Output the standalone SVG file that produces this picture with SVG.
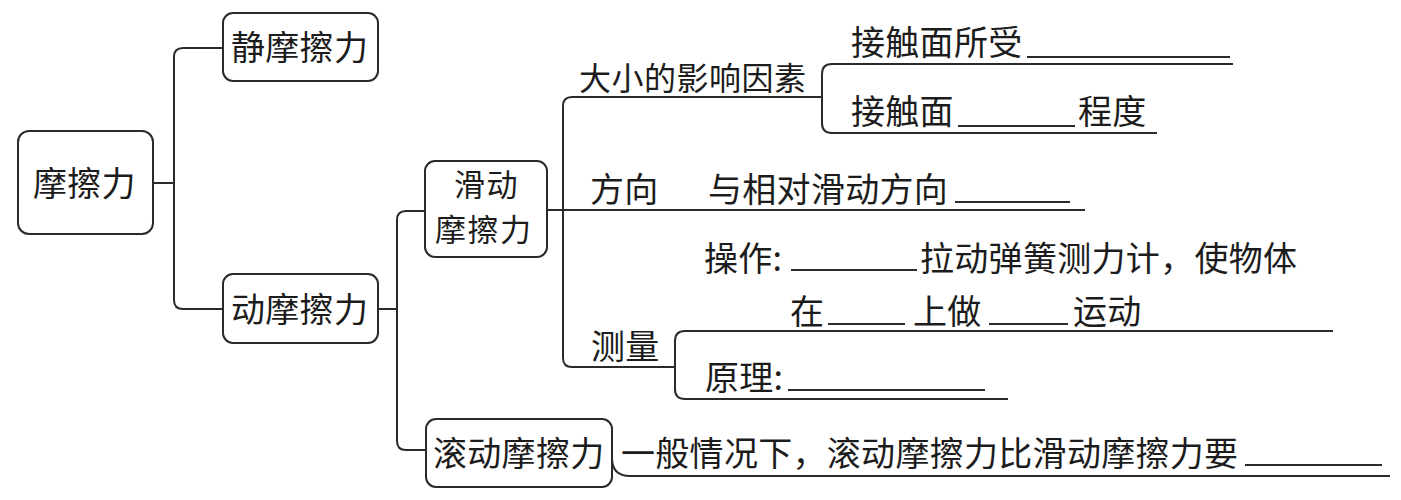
<svg xmlns="http://www.w3.org/2000/svg" width="1401" height="500" viewBox="0 0 1401 500">
<style>
.box{fill:#fff;stroke:#2a2a2a;stroke-width:2}
.ln{fill:none;stroke:#2a2a2a;stroke-width:2}
.bl{fill:none;stroke:#2a2a2a;stroke-width:1.8}
text{font-family:"Noto Sans CJK SC","Noto Sans",sans-serif;font-size:34px;fill:#1c1c1c;letter-spacing:0.3px}
.s{font-size:32px;letter-spacing:1px}
.t{font-size:31px;letter-spacing:1.5px}
</style>
<rect width="1401" height="500" fill="#fff"/>
<g id="connectors">
<path class="ln" d="M153,183 H174"/>
<path class="ln" d="M223,48 H183 Q174,48 174,57 V300 Q174,309 183,309 H223"/>
<path class="ln" d="M378,309 H397"/>
<path class="ln" d="M425,211 H406 Q397,211 397,220 V441 Q397,450 406,450 H426"/>
<path class="ln" d="M547,210 H1085"/>
<path class="ln" d="M822,97 H572 Q563,97 563,106 V358 Q563,367 572,367 H675"/>
<path class="ln" d="M1233,64 H832 Q822,64 822,74 V123 Q822,133 832,133 H1157"/>
<path class="ln" d="M1333,331 H685 Q675,331 675,341 V389 Q675,399 685,399 H1008"/>
<path class="ln" d="M612,458 Q612,476 630,476 H1390"/>
</g>
<g id="blanks">
<path class="bl" d="M1027,57 H1230 M958,126 H1075 M955,202 H1070 M791,270 H917 M828,324 H905 M989,324 H1068 M788,390 H985 M1245,465 H1382"/>
</g>
<g id="n-mocali"><rect class="box" x="18" y="131" width="135" height="103" rx="11"/><text x="33" y="196">摩擦力</text></g>
<g id="n-jing"><rect class="box" x="223" y="13" width="155" height="68" rx="10"/><text x="231" y="60">静摩擦力</text></g>
<g id="n-dong"><rect class="box" x="223" y="274" width="155" height="69" rx="10"/><text x="231" y="322">动摩擦力</text></g>
<g id="n-huadong"><rect class="box" x="425" y="161" width="122" height="96" rx="10"/><text class="t" x="454" y="196">滑动</text><text class="t" x="435" y="241">摩擦力</text></g>
<g id="n-gundong"><rect class="box" x="426" y="419" width="186" height="68" rx="10"/><text x="433" y="466">滚动摩擦力</text></g>
<g id="t-daxiao"><text class="s" x="579" y="90" style="letter-spacing:0.5px">大小的影响因素</text></g>
<g id="t-jiechu1"><text x="851" y="55">接触面所受</text></g>
<g id="t-jiechu2"><text x="851" y="124">接触面</text><text x="1078" y="124">程度</text></g>
<g id="t-fangxiang"><text x="590" y="202">方向</text><text x="708" y="202">与相对滑动方向</text></g>
<g id="t-caozuo"><text x="704" y="271">操作:</text><text x="920" y="271">拉动弹簧测力计，使物体</text></g>
<g id="t-zai"><text x="790" y="324">在</text><text x="913" y="324">上做</text><text x="1073" y="324">运动</text></g>
<g id="t-celiang"><text x="591" y="359">测量</text></g>
<g id="t-yuanli"><text x="705" y="390">原理:</text></g>
<g id="t-yiban"><text x="621" y="466">一般情况下，滚动摩擦力比滑动摩擦力要</text></g>
</svg>
